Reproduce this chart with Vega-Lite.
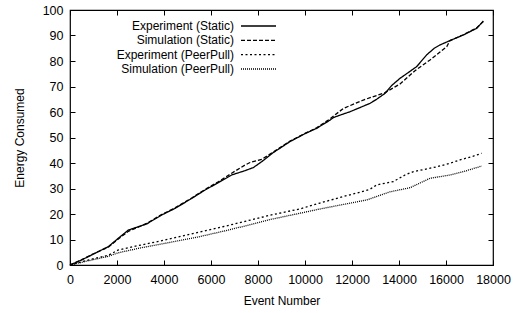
{
  "$schema": "https://vega.github.io/schema/vega-lite/v6.json",
  "width": 423,
  "height": 255,
  "autosize": {"type": "none"},
  "padding": {"left": 70, "top": 10, "right": 21, "bottom": 48},
  "background": "white",
  "config": {
    "view": {"stroke": "black", "strokeWidth": 1.2},
    "font": "Liberation Sans",
    "axis": {
      "grid": false,
      "domain": false,
      "tickColor": "black",
      "tickSize": -5,
      "labelFont": "Liberation Sans",
      "labelFontSize": 12.5,
      "labelColor": "black",
      "titleFont": "Liberation Sans",
      "titleFontSize": 12,
      "titleFontWeight": "normal",
      "titleColor": "black"
    },
    "legend": {
      "orient": "none",
      "legendX": 180.5,
      "legendY": 8,
      "padding": 0,
      "symbolType": "M-2.5,0L2.5,0",
      "symbolSize": 196,
      "symbolStrokeWidth": 1.3,
      "symbolStrokeColor": "black",
      "labelAlign": "right",
      "labelOffset": -32.5,
      "rowPadding": 0.33,
      "labelFont": "Liberation Sans",
      "labelFontSize": 12,
      "labelColor": "black",
      "labelLimit": 300
    }
  },
  "data": {
    "values": [
      {"series": "Experiment (Static)", "event": 0, "energy": 0},
      {"series": "Experiment (Static)", "event": 500, "energy": 2},
      {"series": "Experiment (Static)", "event": 1000, "energy": 4.3},
      {"series": "Experiment (Static)", "event": 1630, "energy": 7.2},
      {"series": "Experiment (Static)", "event": 2057, "energy": 10.5},
      {"series": "Experiment (Static)", "event": 2482, "energy": 13.7},
      {"series": "Experiment (Static)", "event": 2837, "energy": 14.8},
      {"series": "Experiment (Static)", "event": 3262, "energy": 16.1},
      {"series": "Experiment (Static)", "event": 3900, "energy": 19.6},
      {"series": "Experiment (Static)", "event": 4468, "energy": 22.2},
      {"series": "Experiment (Static)", "event": 5177, "energy": 26.1},
      {"series": "Experiment (Static)", "event": 5745, "energy": 29.4},
      {"series": "Experiment (Static)", "event": 6312, "energy": 32.3},
      {"series": "Experiment (Static)", "event": 6879, "energy": 35.3},
      {"series": "Experiment (Static)", "event": 7447, "energy": 37},
      {"series": "Experiment (Static)", "event": 7800, "energy": 38.2},
      {"series": "Experiment (Static)", "event": 8156, "energy": 40.5},
      {"series": "Experiment (Static)", "event": 8652, "energy": 44.1},
      {"series": "Experiment (Static)", "event": 9362, "energy": 48.4},
      {"series": "Experiment (Static)", "event": 10000, "energy": 51.5},
      {"series": "Experiment (Static)", "event": 10496, "energy": 53.6},
      {"series": "Experiment (Static)", "event": 11064, "energy": 56.8},
      {"series": "Experiment (Static)", "event": 11206, "energy": 57.8},
      {"series": "Experiment (Static)", "event": 11500, "energy": 58.8},
      {"series": "Experiment (Static)", "event": 11915, "energy": 60.1},
      {"series": "Experiment (Static)", "event": 12766, "energy": 63.4},
      {"series": "Experiment (Static)", "event": 13050, "energy": 65},
      {"series": "Experiment (Static)", "event": 13404, "energy": 67.3},
      {"series": "Experiment (Static)", "event": 13700, "energy": 70.5},
      {"series": "Experiment (Static)", "event": 14043, "energy": 73.2},
      {"series": "Experiment (Static)", "event": 14400, "energy": 75.5},
      {"series": "Experiment (Static)", "event": 14752, "energy": 77.8},
      {"series": "Experiment (Static)", "event": 15177, "energy": 82.4},
      {"series": "Experiment (Static)", "event": 15500, "energy": 85},
      {"series": "Experiment (Static)", "event": 15745, "energy": 86.3},
      {"series": "Experiment (Static)", "event": 16170, "energy": 88},
      {"series": "Experiment (Static)", "event": 16737, "energy": 90.2},
      {"series": "Experiment (Static)", "event": 17305, "energy": 92.8},
      {"series": "Experiment (Static)", "event": 17589, "energy": 95.7},

      {"series": "Simulation (Static)", "event": 0, "energy": 0},
      {"series": "Simulation (Static)", "event": 500, "energy": 2.1},
      {"series": "Simulation (Static)", "event": 1000, "energy": 4.4},
      {"series": "Simulation (Static)", "event": 1630, "energy": 7.0},
      {"series": "Simulation (Static)", "event": 2057, "energy": 10.2},
      {"series": "Simulation (Static)", "event": 2482, "energy": 13.2},
      {"series": "Simulation (Static)", "event": 2837, "energy": 14.6},
      {"series": "Simulation (Static)", "event": 3262, "energy": 16.3},
      {"series": "Simulation (Static)", "event": 3900, "energy": 19.8},
      {"series": "Simulation (Static)", "event": 4468, "energy": 22.4},
      {"series": "Simulation (Static)", "event": 5177, "energy": 26.3},
      {"series": "Simulation (Static)", "event": 5745, "energy": 29.6},
      {"series": "Simulation (Static)", "event": 6312, "energy": 32.6},
      {"series": "Simulation (Static)", "event": 6879, "energy": 36},
      {"series": "Simulation (Static)", "event": 7447, "energy": 39.2},
      {"series": "Simulation (Static)", "event": 7660, "energy": 40.2},
      {"series": "Simulation (Static)", "event": 8156, "energy": 41.4},
      {"series": "Simulation (Static)", "event": 8652, "energy": 44.3},
      {"series": "Simulation (Static)", "event": 9362, "energy": 48.6},
      {"series": "Simulation (Static)", "event": 10000, "energy": 51.6},
      {"series": "Simulation (Static)", "event": 10496, "energy": 53.8},
      {"series": "Simulation (Static)", "event": 11064, "energy": 57.3},
      {"series": "Simulation (Static)", "event": 11631, "energy": 61.4},
      {"series": "Simulation (Static)", "event": 12482, "energy": 64.7},
      {"series": "Simulation (Static)", "event": 13404, "energy": 67.6},
      {"series": "Simulation (Static)", "event": 14043, "energy": 71},
      {"series": "Simulation (Static)", "event": 14681, "energy": 76.2},
      {"series": "Simulation (Static)", "event": 15319, "energy": 80.4},
      {"series": "Simulation (Static)", "event": 16029, "energy": 85.6},
      {"series": "Simulation (Static)", "event": 16170, "energy": 88},
      {"series": "Simulation (Static)", "event": 16737, "energy": 90.3},
      {"series": "Simulation (Static)", "event": 17305, "energy": 93},
      {"series": "Simulation (Static)", "event": 17589, "energy": 95.5},

      {"series": "Experiment (PeerPull)", "event": 0, "energy": 0},
      {"series": "Experiment (PeerPull)", "event": 800, "energy": 2},
      {"series": "Experiment (PeerPull)", "event": 1630, "energy": 3.8},
      {"series": "Experiment (PeerPull)", "event": 2057, "energy": 5.9},
      {"series": "Experiment (PeerPull)", "event": 3000, "energy": 7.8},
      {"series": "Experiment (PeerPull)", "event": 4043, "energy": 9.8},
      {"series": "Experiment (PeerPull)", "event": 5461, "energy": 12.8},
      {"series": "Experiment (PeerPull)", "event": 6500, "energy": 15},
      {"series": "Experiment (PeerPull)", "event": 7447, "energy": 17.1},
      {"series": "Experiment (PeerPull)", "event": 8500, "energy": 19.5},
      {"series": "Experiment (PeerPull)", "event": 9787, "energy": 22},
      {"series": "Experiment (PeerPull)", "event": 10600, "energy": 24.2},
      {"series": "Experiment (PeerPull)", "event": 11489, "energy": 26.5},
      {"series": "Experiment (PeerPull)", "event": 12200, "energy": 28.2},
      {"series": "Experiment (PeerPull)", "event": 12766, "energy": 29.7},
      {"series": "Experiment (PeerPull)", "event": 13050, "energy": 31.4},
      {"series": "Experiment (PeerPull)", "event": 13759, "energy": 32.7},
      {"series": "Experiment (PeerPull)", "event": 14255, "energy": 35.3},
      {"series": "Experiment (PeerPull)", "event": 14610, "energy": 36.6},
      {"series": "Experiment (PeerPull)", "event": 15603, "energy": 38.5},
      {"series": "Experiment (PeerPull)", "event": 16170, "energy": 39.9},
      {"series": "Experiment (PeerPull)", "event": 16596, "energy": 41.2},
      {"series": "Experiment (PeerPull)", "event": 17163, "energy": 42.7},
      {"series": "Experiment (PeerPull)", "event": 17518, "energy": 43.8},

      {"series": "Simulation (PeerPull)", "event": 0, "energy": 0},
      {"series": "Simulation (PeerPull)", "event": 800, "energy": 1.7},
      {"series": "Simulation (PeerPull)", "event": 1630, "energy": 3.4},
      {"series": "Simulation (PeerPull)", "event": 2057, "energy": 4.8},
      {"series": "Simulation (PeerPull)", "event": 3000, "energy": 6.7},
      {"series": "Simulation (PeerPull)", "event": 4043, "energy": 8.5},
      {"series": "Simulation (PeerPull)", "event": 5461, "energy": 11},
      {"series": "Simulation (PeerPull)", "event": 6500, "energy": 13.2},
      {"series": "Simulation (PeerPull)", "event": 7447, "energy": 15.3},
      {"series": "Simulation (PeerPull)", "event": 8500, "energy": 17.8},
      {"series": "Simulation (PeerPull)", "event": 9787, "energy": 20.3},
      {"series": "Simulation (PeerPull)", "event": 10600, "energy": 21.9},
      {"series": "Simulation (PeerPull)", "event": 11489, "energy": 23.5},
      {"series": "Simulation (PeerPull)", "event": 12624, "energy": 25.5},
      {"series": "Simulation (PeerPull)", "event": 13617, "energy": 28.7},
      {"series": "Simulation (PeerPull)", "event": 14468, "energy": 30.3},
      {"series": "Simulation (PeerPull)", "event": 15319, "energy": 34},
      {"series": "Simulation (PeerPull)", "event": 16170, "energy": 35.3},
      {"series": "Simulation (PeerPull)", "event": 16737, "energy": 36.6},
      {"series": "Simulation (PeerPull)", "event": 17518, "energy": 38.8}
    ]
  },
  "resolve": {"axis": {"x": "independent", "y": "independent"}},
  "layer": [
    {
      "mark": {"type": "line", "color": "black", "strokeWidth": 1.3},
      "encoding": {
        "x": {
          "field": "event", "type": "quantitative",
          "scale": {"domain": [0, 18000], "nice": false},
          "axis": {"orient": "bottom", "title": "Event Number", "values": [0,2000,4000,6000,8000,10000,12000,14000,16000,18000], "format": "d", "labelPadding": 13, "titlePadding": 10, "labelFlush": false}
        },
        "y": {
          "field": "energy", "type": "quantitative",
          "scale": {"domain": [0, 100], "nice": false},
          "axis": {"orient": "left", "title": "Energy Consumed", "values": [0,10,20,30,40,50,60,70,80,90,100], "labelPadding": 12, "titlePadding": 16}
        },
        "strokeDash": {
          "field": "series", "type": "nominal",
          "scale": {
            "domain": ["Experiment (Static)", "Simulation (Static)", "Experiment (PeerPull)", "Simulation (PeerPull)"],
            "range": [[1, 0], [4, 2], [2, 2.5], [1, 1]]
          },
          "legend": {"title": null}
        }
      }
    },
    {
      "mark": {"type": "line", "opacity": 0},
      "encoding": {
        "detail": {"field": "series"},
        "x": {
          "field": "event", "type": "quantitative",
          "scale": {"domain": [0, 18000], "nice": false},
          "axis": {"orient": "top", "title": null, "labels": false, "values": [0,2000,4000,6000,8000,10000,12000,14000,16000,18000]}
        },
        "y": {
          "field": "energy", "type": "quantitative",
          "scale": {"domain": [0, 100], "nice": false},
          "axis": {"orient": "right", "title": null, "labels": false, "values": [0,10,20,30,40,50,60,70,80,90,100]}
        }
      }
    }
  ]
}
